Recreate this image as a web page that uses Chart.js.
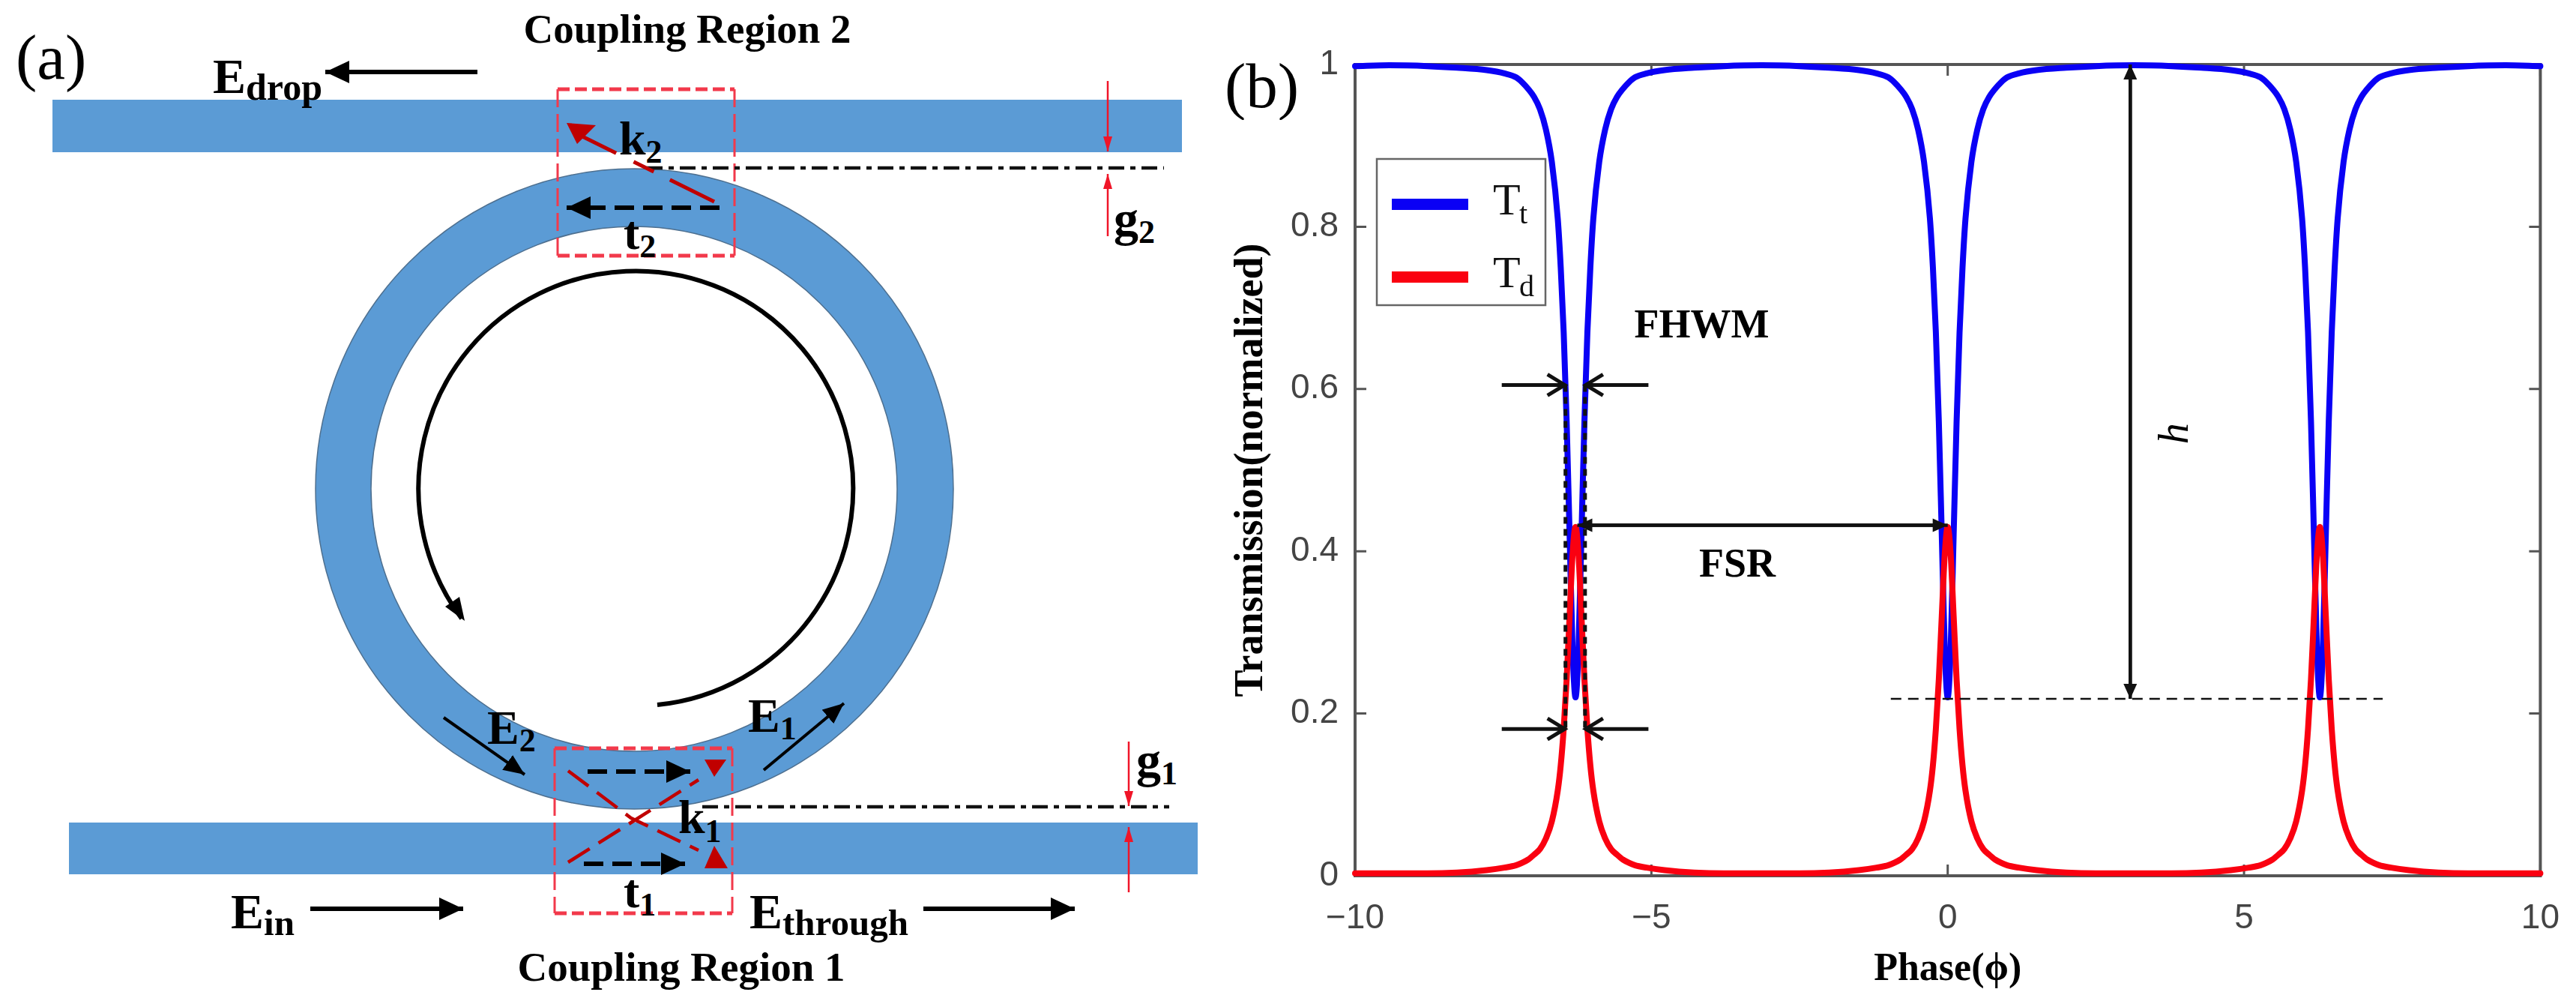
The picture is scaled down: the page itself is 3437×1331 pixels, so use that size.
<!DOCTYPE html>
<html>
<head>
<meta charset="utf-8">
<title>Microring add-drop filter</title>
<script src="https://cdn.jsdelivr.net/npm/chart.js@4/dist/chart.umd.min.js"></script>
<style>
  html, body { margin: 0; padding: 0; background: #fff; }
  #page { position: relative; width: 3437px; height: 1331px; overflow: hidden; background: #fff; }
  #schematic { position: absolute; left: 0; top: 0; }
  #plotWrap { position: absolute; left: 1620px; top: 0; width: 1817px; height: 1331px; }
  #schematic text { font-family: "Liberation Serif", serif; font-weight: bold; fill: #000; }
</style>
</head>
<body>
<div id="page">
  <svg id="schematic" width="1620" height="1331" viewBox="0 0 1620 1331">
    <defs>
      <marker id="headBlack" markerUnits="userSpaceOnUse" markerWidth="34" markerHeight="32" refX="32" refY="16" orient="auto">
        <path d="M0 1 L32 16 L0 31 Z" fill="#000"/>
      </marker>
      <marker id="headThin" markerUnits="userSpaceOnUse" markerWidth="30" markerHeight="26" refX="28" refY="13" orient="auto">
        <path d="M0 1 L28 13 L0 25 Z" fill="#000"/>
      </marker>
      <marker id="headRed" markerUnits="userSpaceOnUse" markerWidth="22" markerHeight="14" refX="20" refY="7" orient="auto">
        <path d="M0 1 L20 7 L0 13 Z" fill="#f01528"/>
      </marker>
    </defs>

    <!-- waveguides and ring -->
    <rect x="70" y="133" width="1507" height="70" fill="#5b9bd5"/>
    <rect x="92" y="1097" width="1506" height="69" fill="#5b9bd5"/>
    <path fill-rule="evenodd" fill="#5b9bd5" stroke="#4d6f8f" stroke-width="1.5"
      d="M421 652 A425.5 427 0 1 1 1272 652 A425.5 427 0 1 1 421 652 Z M495 652 A351 350 0 1 0 1197 652 A351 350 0 1 0 495 652 Z"/>

    <!-- circulation arrow -->
    <path d="M877 940 A290 290 0 1 0 616 825" fill="none" stroke="#000" stroke-width="6"/>
    <path d="M620 828 L594 809 L613 796 Z" fill="#000"/>

    <!-- coupling region boxes -->
    <g fill="none" stroke="#f2394b" stroke-width="3" stroke-dasharray="24 9">
      <path d="M744 119 V341 M980 119 V341"/>
      <path d="M740 998 V1218 M977 998 V1218"/>
    </g>
    <g fill="none" stroke="#f2394b" stroke-width="5" stroke-dasharray="16 7">
      <path d="M744 119 H980 M744 341 H980"/>
      <path d="M740 998 H977 M740 1218 H977"/>
    </g>

    <!-- gap lines -->
    <g fill="none" stroke="#111" stroke-width="4.5" stroke-dasharray="21 8 7 8">
      <path d="M863 224 H1553"/>
      <path d="M937 1076 H1560"/>
    </g>
    <g stroke="#f01528" stroke-width="2.5" fill="none">
      <line x1="1478" y1="108" x2="1478" y2="202" marker-end="url(#headRed)"/>
      <line x1="1478" y1="315" x2="1478" y2="232" marker-end="url(#headRed)"/>
      <line x1="1506" y1="989" x2="1506" y2="1075" marker-end="url(#headRed)"/>
      <line x1="1506" y1="1190" x2="1506" y2="1103" marker-end="url(#headRed)"/>
    </g>

    <!-- coupled fields -->
    <path d="M953 269 L775 181" fill="none" stroke="#c00000" stroke-width="5" stroke-dasharray="66 24 30 26 60"/>
    <path d="M756 164 L795 167 L770 192 Z" fill="#c00000"/>
    <g fill="none" stroke="#c00000" stroke-width="4.5" stroke-dasharray="34 14">
      <path d="M758 1028 L842 1091 L932 1134"/>
      <path d="M758 1150 L842 1097 L932 1040"/>
    </g>
    <path d="M940 1013 L969 1013 L953 1036 Z" fill="#c00000"/>
    <path d="M953 1128 L940 1158 L971 1158 Z" fill="#c00000"/>
    <g fill="none" stroke="#000" stroke-width="6" stroke-dasharray="26 12">
      <line x1="960" y1="277" x2="756" y2="277" marker-end="url(#headBlack)"/>
      <line x1="784" y1="1029" x2="921" y2="1029" marker-end="url(#headBlack)"/>
      <line x1="779" y1="1152" x2="914" y2="1152" marker-end="url(#headBlack)"/>
    </g>

    <!-- port arrows -->
    <g fill="none" stroke="#000" stroke-width="6">
      <line x1="637" y1="96" x2="434" y2="96" marker-end="url(#headBlack)"/>
      <line x1="414" y1="1212" x2="618" y2="1212" marker-end="url(#headBlack)"/>
      <line x1="1232" y1="1212" x2="1434" y2="1212" marker-end="url(#headBlack)"/>
    </g>
    <g fill="none" stroke="#000" stroke-width="4">
      <line x1="592" y1="957" x2="700" y2="1033" marker-end="url(#headThin)"/>
      <line x1="1019" y1="1027" x2="1126" y2="938" marker-end="url(#headThin)"/>
    </g>

    <!-- labels -->
    <text x="21" y="105" font-size="85" style="font-weight:normal">(a)</text>
    <text x="917" y="57" font-size="55" text-anchor="middle">Coupling Region 2</text>
    <text x="909" y="1308" font-size="55" text-anchor="middle">Coupling Region 1</text>
    <text x="284" y="124" font-size="66">E<tspan font-size="50" dy="9">drop</tspan></text>
    <text x="308" y="1238" font-size="66">E<tspan font-size="49" dy="9">in</tspan></text>
    <text x="1000" y="1238" font-size="66">E<tspan font-size="49" dy="9">through</tspan></text>
    <text x="650" y="992" font-size="64">E<tspan font-size="44" dy="10">2</tspan></text>
    <text x="998" y="976" font-size="64">E<tspan font-size="44" dy="10">1</tspan></text>
    <text x="826" y="206" font-size="64">k<tspan font-size="44" dy="11">2</tspan></text>
    <text x="905" y="1111" font-size="64">k<tspan font-size="44" dy="12">1</tspan></text>
    <text x="832" y="332" font-size="64">t<tspan font-size="44" dy="11">2</tspan></text>
    <text x="832" y="1210" font-size="64">t<tspan font-size="44" dy="11">1</tspan></text>
    <text x="1486" y="314" font-size="66">g<tspan font-size="44" dy="10">2</tspan></text>
    <text x="1516" y="1036" font-size="66">g<tspan font-size="44" dy="10">1</tspan></text>
  </svg>

  <div id="plotWrap"><canvas id="transmissionChart" width="1817" height="1331"></canvas></div>

  <svg width="120" height="100" style="position:absolute;left:1628px;top:60px">
    <text x="6" y="83" font-size="85" font-family="Liberation Serif, serif" fill="#000">(b)</text>
  </svg>
</div>

<script>
// values
var phase = [
  -10, -9.42,
  -8.78, -8.28, -7.78, -7.48, -7.28, -7.18, -7.08, -6.98, -6.88, -6.78, -6.68, -6.58, -6.53, -6.48, -6.43, -6.38, -6.33, -6.28,
  -6.23, -6.18, -6.13, -6.08, -6.03, -5.98, -5.88, -5.78, -5.68, -5.58, -5.48, -5.38, -5.28, -5.08, -4.78, -4.28, -3.78,
  -3.14,
  -2.5, -2, -1.5, -1.2, -1, -0.9, -0.8, -0.7, -0.6, -0.5, -0.4, -0.3, -0.25, -0.2, -0.15, -0.1, -0.05, 0,
  0.05, 0.1, 0.15, 0.2, 0.25, 0.3, 0.4, 0.5, 0.6, 0.7, 0.8, 0.9, 1, 1.2, 1.5, 2, 2.5,
  3.14,
  3.78, 4.28, 4.78, 5.08, 5.28, 5.38, 5.48, 5.58, 5.68, 5.78, 5.88, 5.98, 6.03, 6.08, 6.13, 6.18, 6.23, 6.28,
  6.33, 6.38, 6.43, 6.48, 6.53, 6.58, 6.68, 6.78, 6.88, 6.98, 7.08, 7.18, 7.28, 7.48, 7.78, 8.28, 8.78,
  9.42, 10
];
var throughPort = [
  0.998, 0.999,
  0.998, 0.996, 0.993, 0.989, 0.984, 0.978, 0.97, 0.96, 0.945, 0.92, 0.88, 0.81, 0.75, 0.67, 0.56, 0.42, 0.28, 0.22,
  0.28, 0.42, 0.56, 0.67, 0.75, 0.81, 0.88, 0.92, 0.945, 0.96, 0.97, 0.978, 0.984, 0.989, 0.993, 0.996, 0.998,
  0.999,
  0.998, 0.996, 0.993, 0.989, 0.984, 0.978, 0.97, 0.96, 0.945, 0.92, 0.88, 0.81, 0.75, 0.67, 0.56, 0.42, 0.28, 0.22,
  0.28, 0.42, 0.56, 0.67, 0.75, 0.81, 0.88, 0.92, 0.945, 0.96, 0.97, 0.978, 0.984, 0.989, 0.993, 0.996, 0.998,
  0.999,
  0.998, 0.996, 0.993, 0.989, 0.984, 0.978, 0.97, 0.96, 0.945, 0.92, 0.88, 0.81, 0.75, 0.67, 0.56, 0.42, 0.28, 0.22,
  0.28, 0.42, 0.56, 0.67, 0.75, 0.81, 0.88, 0.92, 0.945, 0.96, 0.97, 0.978, 0.984, 0.989, 0.993, 0.996, 0.998,
  0.999, 0.998
];
var dropPort = [
  0.003, 0.003,
  0.003, 0.004, 0.007, 0.01, 0.013, 0.016, 0.02, 0.026, 0.033, 0.046, 0.067, 0.105, 0.136, 0.181, 0.242, 0.32, 0.396, 0.43,
  0.396, 0.32, 0.242, 0.181, 0.136, 0.105, 0.067, 0.046, 0.033, 0.026, 0.02, 0.016, 0.013, 0.01, 0.007, 0.004, 0.003,
  0.003,
  0.003, 0.004, 0.007, 0.01, 0.013, 0.016, 0.02, 0.026, 0.033, 0.046, 0.067, 0.105, 0.136, 0.181, 0.242, 0.32, 0.396, 0.43,
  0.396, 0.32, 0.242, 0.181, 0.136, 0.105, 0.067, 0.046, 0.033, 0.026, 0.02, 0.016, 0.013, 0.01, 0.007, 0.004, 0.003,
  0.003,
  0.003, 0.004, 0.007, 0.01, 0.013, 0.016, 0.02, 0.026, 0.033, 0.046, 0.067, 0.105, 0.136, 0.181, 0.242, 0.32, 0.396, 0.43,
  0.396, 0.32, 0.242, 0.181, 0.136, 0.105, 0.067, 0.046, 0.033, 0.026, 0.02, 0.016, 0.013, 0.01, 0.007, 0.004, 0.003,
  0.003, 0.003
];
var xTickLabels = ['\u221210', '\u22125', '0', '5', '10'];
var yTickLabels = ['0', '0.2', '0.4', '0.6', '0.8', '1'];
var seriesSubscripts = ['t', 'd'];

// annotation positions in data units
var fwhmEdges = [-6.45, -6.12];
var fwhmLevels = [0.605, 0.181];
var fsrEnds = [-6.25, 0];
var fsrLevel = 0.432;
var heightPhase = 3.08;
var heightEnds = [0.218, 1];
var floorSpan = [-0.96, 7.34];

(function () {
  'use strict';

  var serif = '"Liberation Serif", serif';
  var frameColor = '#555';

  function pairs(values) {
    return phase.map(function (x, i) { return { x: x, y: values[i] }; });
  }

  function drawArrow(ctx, x1, y1, x2, y2, opts) {
    var angle = Math.atan2(y2 - y1, x2 - x1);
    var len = opts.head;
    var half = opts.half;
    ctx.save();
    ctx.strokeStyle = '#111';
    ctx.fillStyle = '#111';
    ctx.lineWidth = opts.width;
    ctx.translate(x2, y2);
    ctx.rotate(angle);
    if (opts.open) {
      ctx.beginPath();
      ctx.moveTo(-Math.hypot(x2 - x1, y2 - y1), 0);
      ctx.lineTo(-1, 0);
      ctx.moveTo(-len, -half);
      ctx.lineTo(-1, 0);
      ctx.lineTo(-len, half);
      ctx.stroke();
    } else {
      ctx.beginPath();
      ctx.moveTo(-Math.hypot(x2 - x1, y2 - y1), 0);
      ctx.lineTo(-len + 2, 0);
      ctx.stroke();
      ctx.beginPath();
      ctx.moveTo(0, 0);
      ctx.lineTo(-len, -half);
      ctx.lineTo(-len, half);
      ctx.closePath();
      ctx.fill();
    }
    ctx.restore();
  }

  // closed frame with inward ticks, as in the original axes
  var framePlugin = {
    id: 'frame',
    beforeDatasetsDraw: function (chart) {
      var ctx = chart.ctx;
      var area = chart.chartArea;
      var tickLen = 15;
      ctx.save();
      ctx.strokeStyle = frameColor;
      ctx.lineWidth = 3;
      chart.scales.x.ticks.forEach(function (tick) {
        var px = chart.scales.x.getPixelForValue(tick.value);
        ctx.beginPath();
        ctx.moveTo(px, area.top);
        ctx.lineTo(px, area.top + tickLen);
        ctx.moveTo(px, area.bottom);
        ctx.lineTo(px, area.bottom - tickLen);
        ctx.stroke();
      });
      chart.scales.y.ticks.forEach(function (tick) {
        var py = chart.scales.y.getPixelForValue(tick.value);
        ctx.beginPath();
        ctx.moveTo(area.left, py);
        ctx.lineTo(area.left + tickLen, py);
        ctx.moveTo(area.right, py);
        ctx.lineTo(area.right - tickLen, py);
        ctx.stroke();
      });
      ctx.lineWidth = 4;
      ctx.strokeRect(area.left, area.top, area.right - area.left, area.bottom - area.top);
      ctx.restore();
    }
  };

  var annotationPlugin = {
    id: 'annotations',
    afterDatasetsDraw: function (chart) {
      var ctx = chart.ctx;
      var xs = chart.scales.x;
      var ys = chart.scales.y;
      var leftPx = xs.getPixelForValue(fwhmEdges[0]);
      var rightPx = xs.getPixelForValue(fwhmEdges[1]);
      var tailLeft = xs.getPixelForValue(-7.525);
      var tailRight = xs.getPixelForValue(-5.05);
      var floorY = ys.getPixelForValue(heightEnds[0]);

      ctx.save();
      ctx.strokeStyle = '#111';
      ctx.lineWidth = 5;
      ctx.setLineDash([9, 7]);
      fwhmEdges.forEach(function (edge) {
        var px = xs.getPixelForValue(edge);
        ctx.beginPath();
        ctx.moveTo(px, ys.getPixelForValue(fwhmLevels[0]));
        ctx.lineTo(px, ys.getPixelForValue(fwhmLevels[1]));
        ctx.stroke();
      });
      ctx.lineWidth = 2.5;
      ctx.setLineDash([14, 9]);
      ctx.beginPath();
      ctx.moveTo(xs.getPixelForValue(floorSpan[0]), floorY);
      ctx.lineTo(xs.getPixelForValue(floorSpan[1]), floorY);
      ctx.stroke();
      ctx.restore();

      fwhmLevels.forEach(function (level) {
        var py = ys.getPixelForValue(level);
        var open = { head: 24, half: 14, width: 5, open: true };
        drawArrow(ctx, tailLeft, py, leftPx, py, open);
        drawArrow(ctx, tailRight, py, rightPx, py, open);
      });

      var solid = { head: 20, half: 9, width: 4.5 };
      var fsrY = ys.getPixelForValue(fsrLevel);
      var fsrA = xs.getPixelForValue(fsrEnds[0]);
      var fsrB = xs.getPixelForValue(fsrEnds[1]);
      drawArrow(ctx, fsrB, fsrY, fsrA, fsrY, solid);
      drawArrow(ctx, fsrA, fsrY, fsrB, fsrY, solid);

      var hx = xs.getPixelForValue(heightPhase);
      var hTop = ys.getPixelForValue(heightEnds[1]);
      drawArrow(ctx, hx, floorY, hx, hTop, solid);
      drawArrow(ctx, hx, hTop, hx, floorY, solid);

      ctx.save();
      ctx.fillStyle = '#000';
      ctx.textAlign = 'center';
      ctx.textBaseline = 'alphabetic';
      ctx.font = 'bold 54px ' + serif;
      ctx.fillText('FHWM', xs.getPixelForValue(-4.15), ys.getPixelForValue(0.664));
      ctx.fillText('FSR', xs.getPixelForValue(-3.55), ys.getPixelForValue(0.3685));
      ctx.translate(xs.getPixelForValue(3.82), ys.getPixelForValue(0.545));
      ctx.rotate(-Math.PI / 2);
      ctx.font = 'italic 56px ' + serif;
      ctx.fillText('h', 0, 18);
      ctx.restore();

      drawLegend(chart);
    }
  };

  // the subscripted entries cannot be set by the built-in legend
  function drawLegend(chart) {
    var ctx = chart.ctx;
    var area = chart.chartArea;
    var left = area.left + 29;
    var top = 212;
    var rows = [60, 157];
    ctx.save();
    ctx.fillStyle = '#fff';
    ctx.strokeStyle = '#666';
    ctx.lineWidth = 2.5;
    ctx.fillRect(left, top, 225, 195);
    ctx.strokeRect(left, top, 225, 195);
    chart.data.datasets.forEach(function (dataset, i) {
      var y = top + rows[i];
      ctx.fillStyle = dataset.borderColor;
      ctx.fillRect(left + 20, y - 7, 102, 15);
      ctx.fillStyle = '#111';
      ctx.textAlign = 'left';
      ctx.textBaseline = 'alphabetic';
      ctx.font = '60px ' + serif;
      ctx.fillText('T', left + 155, y + 14);
      ctx.font = '40px ' + serif;
      ctx.fillText(seriesSubscripts[i], left + 190, y + 26);
    });
    ctx.restore();
  }

  function renderChart() {
    var canvas = document.getElementById('transmissionChart');
    new Chart(canvas, {
      type: 'line',
      data: {
        datasets: [
          {
            label: 'Tt',
            data: pairs(throughPort),
            borderColor: '#0a00f5',
            borderWidth: 8,
            order: 2
          },
          {
            label: 'Td',
            data: pairs(dropPort),
            borderColor: '#fa0010',
            borderWidth: 8,
            order: 1
          }
        ].map(function (set) {
          set.pointRadius = 0;
          set.cubicInterpolationMode = 'monotone';
          set.borderCapStyle = 'round';
          set.borderJoinStyle = 'round';
          set.clip = false;
          return set;
        })
      },
      options: {
        responsive: false,
        animation: false,
        layout: { padding: { left: 0, right: 45, top: 86, bottom: 0 } },
        plugins: {
          legend: { display: false },
          tooltip: { enabled: false }
        },
        scales: {
          x: {
            type: 'linear',
            min: -10,
            max: 10,
            afterFit: function (scale) { scale.height = 163; },
            grid: { display: false },
            border: { display: false },
            ticks: {
              stepSize: 5,
              padding: 22,
              maxRotation: 0,
              color: '#444',
              font: { family: '"Liberation Sans", sans-serif', size: 46 },
              callback: function (value) { return xTickLabels[(value + 10) / 5]; }
            },
            title: {
              display: true,
              text: 'Phase(\u03d5)',
              color: '#000',
              padding: { top: 0, bottom: 6 },
              font: { family: serif, size: 52, weight: 'bold' }
            }
          },
          y: {
            min: 0,
            max: 1,
            afterFit: function (scale) { scale.width = 188; },
            grid: { display: false },
            border: { display: false },
            ticks: {
              stepSize: 0.2,
              padding: 14,
              color: '#444',
              font: { family: '"Liberation Sans", sans-serif', size: 46 },
              callback: function (value) { return yTickLabels[Math.round(value * 5)]; }
            },
            title: {
              display: true,
              text: 'Transmission(normalized)',
              color: '#000',
              padding: { top: 18, bottom: 0 },
              font: { family: serif, size: 54, weight: 'bold' }
            }
          }
        }
      },
      plugins: [framePlugin, annotationPlugin]
    });
  }

  document.addEventListener('DOMContentLoaded', renderChart);
}());
</script>
</body>
</html>
